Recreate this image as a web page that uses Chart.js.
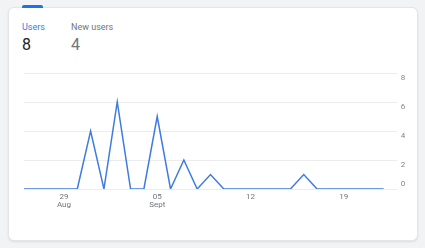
<!DOCTYPE html>
<html>
<head>
<meta charset="utf-8">
<script src="https://cdn.jsdelivr.net/npm/chart.js@4/dist/chart.umd.min.js"></script>
<style>
  html, body { margin: 0; padding: 0; }
  body { width: 425px; height: 248px; background: #f1f3f4; font-family: Roboto, 'Noto Sans', sans-serif; position: relative; overflow: hidden; }
  .card { position: absolute; left: 8px; top: 7px; width: 408px; height: 232px; background: #fff; border: 1px solid #e3e5e8; border-radius: 6px; box-shadow: 0 1px 2px rgba(60,64,67,0.12); }
  .tab { position: absolute; left: 22px; top: 5px; width: 21px; height: 3px; background: #1a73e8; border-radius: 2px 2px 0 0; }
  .metric { position: absolute; top: 21px; }
  .metric .name { font-size: 9px; line-height: 12px; color: #70757a; }
  .metric .val { font-size: 16px; line-height: 20px; color: #70757a; margin-top: 2px; }
  .metric.active .name { color: #3b7be6; }
  .metric.active .val { color: #202124; }
  #chart { position: absolute; left: 0; top: 0; }
</style>
</head>
<body>
<div class="card"></div>
<div class="tab"></div>
<div class="metric active" style="left:22px"><div class="name">Users</div><div class="val">8</div></div>
<div class="metric" style="left:71px"><div class="name">New users</div><div class="val">4</div></div>
<canvas id="chart" width="425" height="248"></canvas>
<script>
// one point per day, 26 Aug – 22 Sept
const dates = [
  '26 Aug', '27 Aug', '28 Aug', '29 Aug', '30 Aug', '31 Aug',
  '01 Sept', '02 Sept', '03 Sept', '04 Sept', '05 Sept', '06 Sept', '07 Sept',
  '08 Sept', '09 Sept', '10 Sept', '11 Sept', '12 Sept', '13 Sept', '14 Sept',
  '15 Sept', '16 Sept', '17 Sept', '18 Sept', '19 Sept', '20 Sept', '21 Sept', '22 Sept'
];
const users = [0, 0, 0, 0, 0, 4, 0, 6, 0, 0, 5, 0, 2, 0, 1, 0, 0, 0, 0, 0, 0, 1, 0, 0, 0, 0, 0, 0];

const tickDates  = ['29 Aug', '05 Sept', '12 Sept', '19 Sept'];
const tickLabels = [['29', 'Aug'], ['05', 'Sept'], ['12'], ['19']];
const yTicks = [0, 2, 4, 6, 8];

// y labels sit just under their gridline (the bottom one just above it)
const yLabels = {
  id: 'yLabels',
  afterDraw(chart) {
    const y = chart.scales.y;
    const c = chart.ctx;
    c.save();
    c.font = '8px Roboto';
    c.fillStyle = '#80868b';
    c.textAlign = 'center';
    yTicks.forEach((v, i) => {
      const py = y.getPixelForValue(v);
      if (i === 0) { c.textBaseline = 'bottom'; c.fillText(String(v), 403, py - 1); }
      else { c.textBaseline = 'top'; c.fillText(String(v), 403, py + 1); }
    });
    c.restore();
  }
};

new Chart(document.getElementById('chart'), {
  type: 'line',
  data: {
    datasets: [{
      label: 'Users',
      data: users.map((v, i) => ({ x: i, y: v })),
      borderColor: '#3f7be0',
      borderWidth: 1.5,
      pointRadius: 0,
      tension: 0,
      fill: false,
    }],
  },
  options: {
    responsive: false,
    animation: false,
    layout: { padding: { left: 24, top: 73, right: 28, bottom: 35 } },
    plugins: { legend: { display: false }, tooltip: { enabled: false } },
    scales: {
      x: {
        type: 'linear',
        min: 0,
        max: dates.length,
        grid: { display: false, drawTicks: false },
        border: { display: false },
        afterBuildTicks: (axis) => {
          axis.ticks = tickDates.map(d => ({ value: dates.indexOf(d) }));
        },
        ticks: {
          autoSkip: false,
          maxRotation: 0,
          padding: 4,
          color: '#70757a',
          font: { family: 'Roboto', size: 8, lineHeight: 1.0 },
          callback: (v) => tickLabels[tickDates.indexOf(dates[v])],
        },
      },
      y: {
        position: 'right',
        min: 0,
        max: 8,
        afterBuildTicks: (axis) => { axis.ticks = yTicks.map(v => ({ value: v })); },
        grid: { color: '#ececec', lineWidth: 1, drawTicks: false },
        border: { display: false },
        ticks: { display: false },
      },
    },
  },
  plugins: [yLabels],
});
</script>
</body>
</html>
